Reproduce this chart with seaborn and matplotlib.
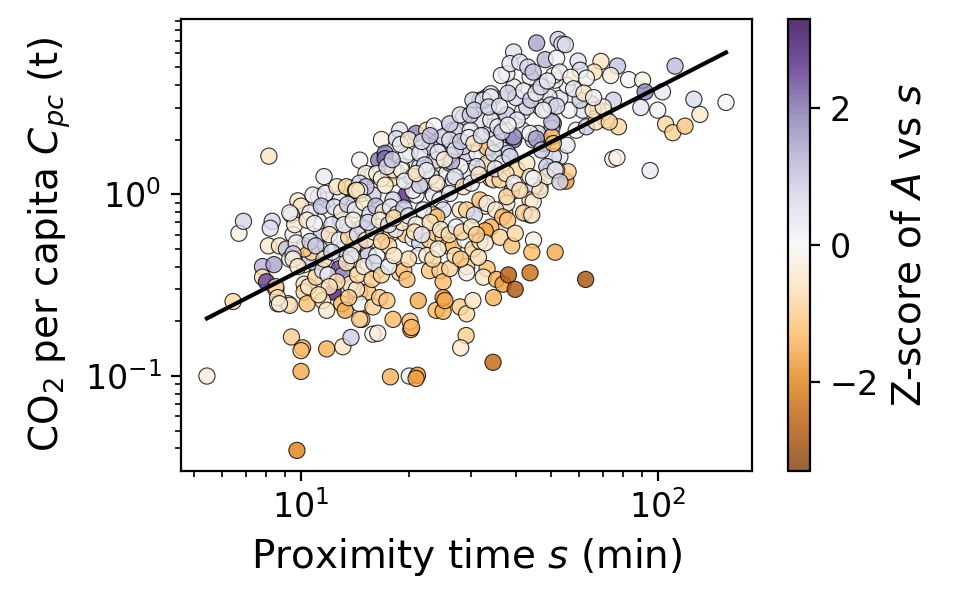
import numpy as np
import pandas as pd
import matplotlib
matplotlib.use("Agg")
import matplotlib.pyplot as plt
from matplotlib.colors import Normalize, ListedColormap
from matplotlib.cm import ScalarMappable
import seaborn as sns


# proximity time s (min), CO2 per capita (t), z-score of A vs s
proximity_min = [
    5.45, 6.45, 6.7, 6.9, 8.13, 9.74, 10.0, 9.4, 10.1, 10.0, 11.8, 13.1, 13.8, 15.9, 16.4, 17.8, 20.1, 21.2, 21.0, 20.3,
    29.0, 28.0, 34.5,
    55.2, 56.0, 50.0, 95.0, 51.5, 62.7, 46.7,
    45.7, 52.5, 53.8, 55.0, 39.4, 48.3, 52.0, 59.7, 69.2, 77.0, 66.2, 73.7, 82.7, 90.5, 111.6, 102.9, 92.0, 126.0, 155.0, 131.0,
    105.0, 110.0, 119.0, 99.8, 89.5, 74.7, 76.7, 75.0, 77.5, 71.6, 70.6, 67.7, 64.7, 50.9,
    38.9, 37.2, 42.5, 43.8, 45.3, 53.1, 50.9, 48.8, 39.4, 47.7, 55.6, 50.4, 59.0, 63.0, 67.0, 73.0, 61.5, 65.8, 70.2, 56.3,
    60.5, 53.1, 49.5, 46.7, 48.8, 41.7, 55.6, 51.5, 46.1, 43.8, 39.4, 37.7, 36.4, 38.5, 41.0, 43.2, 44.7, 51.0, 53.0, 60.5,
    63.0, 50.0, 52.0, 33.2, 34.6, 34.0, 36.0, 35.3, 33.2, 36.7, 38.0, 41.7, 46.1, 44.7, 50.4, 52.0, 48.8, 44.7, 43.8, 44.7,
    37.7, 32.8,
    14.6, 11.6, 8.3, 8.2, 8.1, 8.7, 9.1, 7.8, 8.4, 7.8, 8.0, 8.5, 8.6, 9.2, 9.3, 9.3, 9.5, 9.8, 10.0, 9.4,
    9.6, 10.2, 10.2, 10.2, 10.2, 10.4, 10.9, 11.8, 12.3, 12.8, 11.4, 11.2, 12.9, 13.7, 14.9, 13.1, 11.3, 10.6, 10.7, 10.2,
    11.8, 12.9, 14.0, 14.8, 15.4, 15.9, 16.5, 11.2, 12.2, 10.6, 9.3, 9.7, 10.5, 11.5, 11.8, 13.0, 13.3, 14.2, 14.6, 15.4,
    14.6, 14.8, 15.9, 14.0, 15.4, 16.3, 13.1, 11.0,
    16.8, 17.2, 17.2, 18.9, 18.5, 19.1, 18.5, 20.2, 21.0, 22.5, 23.6, 22.9, 24.8, 26.7, 28.5, 26.4, 23.9, 22.0, 25.6, 29.1,
    31.1, 31.7, 31.7, 34.0, 29.4, 19.7, 21.0, 22.0, 16.5, 13.7, 15.9, 26.1, 34.0, 33.2, 10.8, 11.7, 12.6, 13.4, 14.2, 15.2,
    16.3, 14.6, 15.2, 17.6, 17.9, 20.2, 21.5, 23.2, 26.1, 27.9, 32.4, 30.3, 32.4, 34.0, 34.0, 27.3, 29.8, 25.0, 26.1,
    26.1, 27.9, 29.8, 30.6, 33.5, 35.6, 37.7, 39.4, 40.3, 42.9, 43.8, 45.6, 47.2, 50.4, 47.7, 51.5, 53.1, 19.7, 21.5, 23.9,
    26.1, 26.4, 28.5, 33.2, 34.6, 36.7, 38.5, 40.3, 42.9, 43.8, 46.7, 42.0, 44.3, 44.8, 16.8, 18.1, 19.1, 20.6, 22.2, 26.7,
    31.1, 34.6, 36.1, 37.7, 14.6, 17.2, 18.1, 20.6, 21.5, 23.5, 24.5, 25.0, 26.1, 27.9, 29.1, 30.6, 31.7, 33.2, 35.1, 36.7,
    37.9, 34.0, 32.8, 14.9, 16.5, 17.2, 17.9, 19.6, 20.6, 21.5, 22.9, 23.9, 25.0, 25.8, 26.7, 28.8, 23.5, 24.0, 30.3, 31.7,
    32.8, 36.1, 38.9, 39.8, 44.8, 44.3, 14.6, 15.4, 16.3, 17.6, 18.9, 19.4, 19.8, 21.3, 22.5, 22.9, 24.5, 25.0, 26.1, 29.1,
    29.1, 33.2, 32.4, 35.3, 36.8, 38.1, 39.8, 43.8, 16.6, 17.4, 18.1, 20.2, 20.4, 21.3, 23.9, 25.0, 25.0, 25.3, 27.9, 29.1,
    30.3, 34.6, 14.6, 50.9,
]
co2_pc = [
    0.100, 0.257, 0.61, 0.71, 1.62, 0.039, 0.106, 0.164, 0.143, 0.138, 0.141, 0.145, 0.163, 0.170, 0.172, 0.099, 0.100, 0.101, 0.097, 0.180,
    0.167, 0.143, 0.119,
    1.18, 1.33, 1.35, 1.35, 0.48, 0.34, 1.10,
    6.79, 7.10, 6.70, 6.65, 6.06, 5.50, 5.60, 5.40, 5.38, 5.07, 4.70, 4.50, 4.27, 4.24, 5.07, 3.66, 3.66, 3.33, 3.20, 2.75,
    2.43, 2.18, 2.37, 2.90, 3.00, 1.56, 1.59, 3.29, 2.35, 2.56, 2.84, 2.90, 3.15, 2.45,
    1.03, 0.79, 0.79, 0.77, 1.12, 1.61, 1.61, 1.42, 1.99, 1.90, 1.86, 2.30, 2.25, 2.35, 2.50, 2.50, 2.90, 2.90, 3.02, 2.90,
    3.29, 3.37, 3.43, 3.02, 2.90, 2.84, 3.97, 4.24, 4.07, 4.42, 3.89, 4.60, 4.50, 5.23, 5.33, 5.00, 4.70, 4.50, 4.70, 4.81,
    4.35, 3.10, 3.05, 3.43, 3.43, 2.35, 2.56, 2.07, 1.75, 1.75, 1.68, 2.25, 2.16, 1.99, 2.07, 1.36, 1.25, 1.10, 0.93, 0.91,
    0.89, 0.86,
    1.54, 1.25, 0.71, 0.65, 0.52, 0.52, 0.50, 0.40, 0.41, 0.35, 0.33, 0.30, 0.25, 0.25, 0.245, 0.44, 0.60, 0.92, 0.86, 0.77,
    0.68, 0.52, 0.41, 0.32, 0.29, 0.25, 0.42, 0.40, 0.29, 0.39, 0.61, 0.71, 0.72, 0.64, 0.64, 0.50, 0.50, 0.44, 0.48, 0.50,
    0.93, 0.95, 1.01, 1.01, 1.25, 1.28, 1.54, 0.97, 0.68, 0.79, 0.79, 0.54, 0.31, 0.26, 0.23, 0.25, 0.23, 0.29, 0.29, 0.29,
    0.25, 0.205, 0.24, 0.39, 0.47, 0.38, 0.36, 0.35,
    2.00, 1.68, 1.57, 2.25, 2.02, 1.42, 1.33, 1.71, 2.16, 2.25, 2.37, 1.83, 1.86, 2.25, 2.66, 1.61, 1.42, 1.12, 1.30, 1.68,
    1.68, 2.56, 3.29, 3.57, 1.33, 0.99, 0.99, 1.15, 1.28, 1.08, 0.99, 1.10, 1.22, 1.81, 0.99, 1.01, 1.10, 1.10, 1.05, 1.30,
    1.30, 1.15, 1.10, 1.30, 1.22, 1.25, 1.42, 1.25, 1.48, 1.42, 1.42, 3.29, 3.29, 3.43, 2.56, 2.25, 2.25, 2.07, 1.99,
    2.44, 2.73, 2.73, 2.90, 3.02, 2.35, 2.73, 2.07, 2.56, 3.02, 2.16, 2.02, 1.75, 2.50, 2.90, 1.36, 1.17, 1.64, 1.68, 1.54,
    1.64, 1.51, 1.83, 1.48, 1.68, 1.48, 1.61, 1.36, 1.48, 1.25, 1.05, 0.79, 0.77, 1.22, 1.22, 1.36, 1.36, 1.25, 1.45, 1.20,
    1.42, 1.20, 1.20, 0.97, 1.05, 1.12, 0.93, 1.05, 1.12, 0.99, 0.93, 0.82, 1.01, 0.82, 0.82, 0.77, 0.93, 0.89, 0.82, 0.75,
    0.72, 0.66, 0.63, 0.66, 0.66, 0.58, 0.61, 0.60, 0.57, 0.54, 0.56, 0.61, 0.58, 0.52, 0.52, 0.56, 0.77, 0.75, 0.50, 0.55,
    0.54, 0.58, 0.52, 0.61, 0.56, 0.48, 0.54, 0.46, 0.46, 0.52, 0.37, 0.38, 0.34, 0.46, 0.46, 0.38, 0.38, 0.33, 0.39, 0.40,
    0.37, 0.39, 0.35, 0.34, 0.32, 0.36, 0.30, 0.37, 0.27, 0.26, 0.205, 0.20, 0.185, 0.26, 0.23, 0.227, 0.27, 0.26, 0.24, 0.22,
    0.26, 0.27, 0.205, 1.90,
]
zscore = [
    -0.3, -0.8, -0.2, 0.7, -0.5, -2.0, -1.5, -1.0, -1.4, -1.2, -1.4, -0.5, 0.8, 0.1, -0.3, -1.4, 0.2, -1.7, -1.6, -1.8,
    -1.0, -0.4, -2.4,
    -1.7, -1.0, 0.8, 0.3, -1.5, -2.8, 0.5,
    1.4, 0.8, 0.4, 0.6, 0.5, 1.2, 0.1, 0.5, -0.5, 1.0, -0.6, -0.3, 0.0, -0.2, 1.1, 0.3, 1.8, 0.6, 0.0, -0.4,
    -0.8, -0.9, -1.1, 0.1, 0.4, -0.3, -0.1, 0.8, -0.8, -0.6, -0.4, -0.7, -0.9, 1.8,
    -1.3, -1.0, -0.3, -0.4, 0.5, 0.4, 0.6, 0.9, 2.0, 2.2, 0.3, 1.0, 0.1, 0.9, -0.6, -0.8, 0.4, -0.5, -0.3, 0.1,
    0.8, 0.4, 0.5, 0.2, 0.0, 0.1, 0.1, 0.2, 0.5, 0.2, 0.2, 0.4, 0.1, 0.3, 0.5, 0.7, 1.0, 0.1, 0.2, 0.6,
    0.1, 0.8, 0.7, 0.9, 0.6, 0.8, 0.7, 0.1, 0.4, 0.7, 0.9, 0.4, 0.8, 0.9, -1.3, -0.3, -0.4, 0.4, -0.6, -0.3,
    -0.2, -0.4,
    0.0, 0.3, 0.7, 0.5, -0.4, -0.5, 1.0, 1.2, 1.4, -0.7, 2.4, -0.9, -0.3, 0.2, -0.7, 0.0, 0.3, -0.4, -0.5, 0.8,
    -0.4, -1.0, -0.4, -0.6, -0.8, -1.2, 0.8, 0.4, 2.7, 2.3, 0.9, 0.1, 1.4, 1.1, -0.7, 0.8, 0.9, 0.6, -0.9, -1.1,
    0.4, 0.1, -0.4, -0.2, -0.5, 0.0, 1.9, 0.7, 0.5, 0.4, 0.1, 0.1, -0.5, -0.5, -0.4, -1.3, -1.5, -1.4, -1.2, -1.1,
    0.0, -1.3, -0.9, -0.6, 0.0, 0.4, 1.5, -0.9,
    -0.2, 1.9, 2.0, 0.4, 0.6, -0.1, -0.6, 0.4, 1.8, -0.5, 0.1, 0.9, 0.8, 0.8, 0.4, 1.6, -0.5, -0.6, 0.2, 0.9,
    0.1, 0.5, 0.8, 0.3, 0.4, 2.6, 0.1, 0.7, -0.2, -0.6, 0.8, 0.2, -1.1, -1.2, 0.2, 0.3, -0.5, -0.8, -0.5, -0.2,
    -0.1, 0.7, 0.9, -0.5, -0.7, 0.3, 0.8, 0.8, 1.4, 0.0, -0.8, 0.7, 0.5, 0.3, 0.3, 0.6, 0.3, 0.7, 0.6,
    0.9, 0.5, 0.9, 0.8, 0.8, 0.3, 0.9, 1.6, 0.4, 0.7, 0.1, 1.5, 0.8, 0.9, 0.2, 0.5, 0.8, 0.2, 0.4, 0.7,
    0.9, 1.3, 0.8, -0.6, 0.6, 0.1, 0.7, -0.8, -0.5, -0.4, -0.5, -0.9, -0.5, 0.1, -0.3, -0.6, -0.1, 0.6, 0.8, 0.4,
    0.6, -0.5, -0.9, -0.8, 0.1, -0.4, 0.7, 0.1, 0.8, 0.4, 0.1, 0.6, 0.4, -0.5, -1.0, 0.7, -1.2, -0.2, -0.4, -1.3,
    -1.1, -1.4, -1.5, 1.0, -0.4, -1.2, -0.9, -1.0, 0.0, 0.7, -1.0, -0.9, -1.0, -1.1, -1.2, 0.0, -0.9, -1.2, -0.8, -0.9,
    -0.3, -0.9, -1.2, -0.8, -0.2, -1.3, 1.6, 1.0, 0.1, -0.8, -0.9, -1.1, -1.2, 0.2, -0.4, -1.1, -1.0, -1.3, -0.9, -0.9,
    -0.2, -1.2, -0.5, -1.4, -1.6, -2.6, -2.7, -2.3, -1.0, -1.1, -1.3, -1.2, -1.3, -1.5, -1.3, -1.4, -1.7, -1.5, -1.0, -0.8,
    -0.5, -1.4, -0.9, -1.3,
]

# extra points from the dense core of the cloud
core_s = [
    8.5, 8.6, 8.7, 10.4, 10.9, 11.4, 9.5, 10.6, 11.0, 9.5, 9.8, 11.5, 11.9, 13.7, 14.3, 14.0, 14.0, 14.3,
    12.4, 13.0, 13.5, 14.2, 15.0, 15.6, 16.2, 17.0, 17.8, 18.6, 19.4, 12.0, 12.8, 13.6, 14.4, 15.2, 16.0, 16.8,
    18.4, 19.2, 13.2, 14.0, 15.4, 16.6, 17.6, 18.2, 20.0, 21.0, 22.0, 23.0,
    20.8, 21.8, 24.6, 26.0, 27.2, 28.2, 30.0, 31.0, 27.0, 28.0, 31.4, 23.4, 24.2, 20.0,
    11.6, 12.2, 12.6, 13.4, 13.8, 14.4, 15.0, 15.8, 16.0, 16.8, 17.6, 18.2, 12.0, 11.2, 13.6,
    17.4, 18.0, 19.0, 20.0, 21.8, 23.0, 24.2, 25.2, 27.0, 28.0, 29.5, 30.5, 32.0, 35.0, 36.5, 38.0,
    19.5, 21.0, 22.5, 24.0, 27.0, 28.5, 30.0, 31.5, 35.0, 37.5, 39.5, 41.0,
    40.0, 42.0, 44.0, 45.5, 47.0, 49.0, 57.0, 58.0, 62.0, 66.0, 36.0, 38.0,
]
core_c = [
    0.31, 0.27, 0.25, 0.72, 0.69, 0.86, 0.47, 0.55, 0.52, 0.44, 0.40, 0.38, 0.36, 0.32, 0.30, 0.52, 0.44, 1.05,
    0.85, 0.80, 0.88, 0.82, 0.90, 0.78, 0.86, 0.80, 0.85, 0.78, 0.84, 0.60, 0.56, 0.58, 0.60, 0.56, 0.62, 0.55,
    0.64, 0.70, 0.68, 0.72, 0.70, 0.72, 0.68, 0.74, 0.76, 0.68, 0.82, 0.70,
    0.62, 0.60, 0.64, 0.60, 0.66, 0.62, 0.66, 0.60, 0.46, 0.44, 0.45, 0.44, 0.50, 0.44,
    0.44, 0.48, 0.33, 0.42, 0.46, 0.36, 0.40, 0.34, 0.42, 0.36, 0.40, 0.46, 0.31, 0.28, 0.27,
    1.42, 1.55, 1.88, 2.00, 1.95, 2.10, 1.70, 1.55, 1.75, 1.95, 2.05, 1.90, 2.10, 1.90, 2.20, 2.40,
    1.18, 1.30, 1.35, 1.15, 1.25, 1.10, 1.15, 1.28, 1.38, 1.30, 1.15, 1.05,
    3.40, 3.70, 3.30, 3.60, 3.90, 4.20, 4.40, 3.80, 3.60, 3.40, 3.05, 3.60,
]
core_z = [
    -0.9, -0.6, -0.3, -0.3, 0.1, 0.9, 0.8, 0.7, 0.9, -0.3, -0.4, 0.4, 0.3, -0.5, -0.4, -0.6, -0.5, -0.6,
    0.6, -0.3, 0.9, 0.3, -0.4, 0.5, 1.1, -0.5, 0.4, -0.6, 0.9, -0.5, 0.3, -0.8, 0.5, -0.6, 0.2, -0.9,
    0.3, -0.4, 0.0, -0.2, 0.7, -0.3, 0.6, -0.7, 0.5, -0.2, 0.3, -0.6,
    -0.6, 0.4, -0.4, -0.7, 0.2, -0.9, -0.5, -1.0, -0.6, -1.1, -0.7, -0.8, -0.3, -0.7,
    -0.6, 0.6, -0.7, -0.5, 0.4, -0.8, -0.3, -1.0, 0.6, -0.9, 0.3, -0.5, -0.6, -0.7, -1.0,
    0.5, 0.9, 0.3, -0.4, 0.6, 1.1, 0.4, -0.3, 0.5, 0.9, 0.2, -0.5, 0.6, 0.4, 0.9, 0.1,
    0.3, -0.5, 0.2, -0.4, 0.5, -0.6, 0.3, -0.4, 0.5, -0.6, 0.2, -0.7,
    0.6, 0.3, 0.9, 0.2, 0.7, 0.3, -0.2, 0.4, -0.5, 0.2, 0.5, 0.8,
]

# power-law fit C = a * s^b
fit_coef = 0.0377
fit_slope = 1.006
z_lim = 3.3

df = pd.DataFrame({"s": proximity_min + core_s, "C": co2_pc + core_c, "z": zscore + core_z})

plt.rcParams["font.family"] = ["DejaVu Sans"]
fig = plt.figure(figsize=(4.77, 3.015), dpi=200)
ax = fig.add_axes([0.1897, 0.219, 0.5985, 0.7496])
cax = fig.add_axes([0.8257, 0.219, 0.0235, 0.7496])

norm = Normalize(vmin=-z_lim, vmax=z_lim)
sns.scatterplot(data=df, x="s", y="C", hue="z", palette="PuOr", hue_norm=norm,
                s=34, alpha=0.8, edgecolor="black", linewidth=0.4, legend=False, ax=ax)
ax.set_xscale("log")
ax.set_yscale("log")

s_line = np.array([df["s"].min(), df["s"].max()])
ax.plot(s_line, fit_coef * s_line ** fit_slope, color="black", lw=1.5)

ax.set_xlabel("Proximity time $s$ (min)", fontsize=14)
ax.set_ylabel("CO$_2$ per capita $C_{pc}$ (t)", fontsize=14)
ax.tick_params(labelsize=12)

colors = plt.get_cmap("PuOr")(np.linspace(0, 1, 256))
colors[:, 3] = 0.8
sm = ScalarMappable(norm=norm, cmap=ListedColormap(colors))
cb = fig.colorbar(sm, cax=cax)
cb.set_ticks([-2, 0, 2])
cb.ax.tick_params(labelsize=12)
cb.set_label("Z-score of $A$ vs $s$", fontsize=14)

fig.savefig("out.png", dpi=200)
